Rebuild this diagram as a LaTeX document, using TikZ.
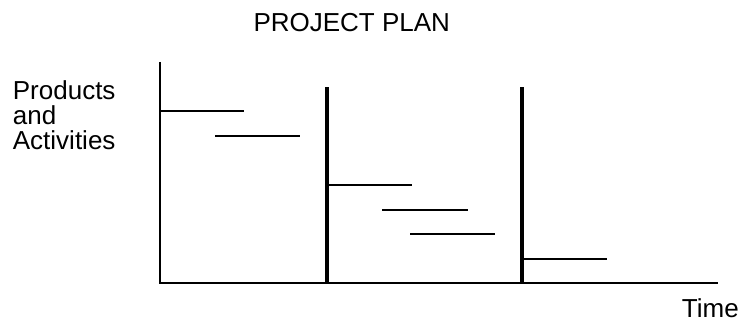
\documentclass[tikz,border=0pt]{standalone}
\usepackage{fontspec}
\setmainfont{Liberation Sans}
\begin{document}
\begin{tikzpicture}[x=1pt, y=1pt,
        label/.style={anchor=base west, inner sep=0pt, font=\fontsize{26}{26}\selectfont},
        axis/.style={line width=2pt},
        milestone/.style={line width=4pt},
        activity/.style={line width=2pt}]
        \useasboundingbox (0, 0) rectangle (743, 322);

        \node[style=label] (title) at (253.3, 290.7) {PROJECT PLAN};
        \node[style=label] (prod) at (12.7, 222.5) {Products};
        \node[style=label] (and) at (12.7, 197.5) {and};
        \node[style=label] (act) at (12.7, 172.5) {Activities};
        \node[style=label] (time) at (681.7, 4.7) {Time};

        \coordinate (o) at (160, 39.3);
        \coordinate (ytop) at (160, 260);
        \coordinate (xend) at (718, 39.3);
        \coordinate (m1top) at (327.3, 234.7);
        \coordinate (m1bot) at (327.3, 39.3);
        \coordinate (m2top) at (522.3, 234.7);
        \coordinate (m2bot) at (522.3, 39.3);

        \draw[style=axis] (ytop) -- (o) -- (xend);
        \draw[style=milestone] (m1top) -- (m1bot);
        \draw[style=milestone] (m2top) -- (m2bot);

        \draw[style=activity]
            (160, 210.7) -- (244.3, 210.7)
            (215.3, 185.7) -- (300, 185.7)
            (327.3, 137) -- (411.7, 137)
            (382.3, 112.3) -- (467.7, 112.3)
            (410.3, 88.3) -- (495.3, 88.3)
            (522.3, 63.3) -- (606.7, 63.3)
        ;
    \end{tikzpicture}
\end{document}
